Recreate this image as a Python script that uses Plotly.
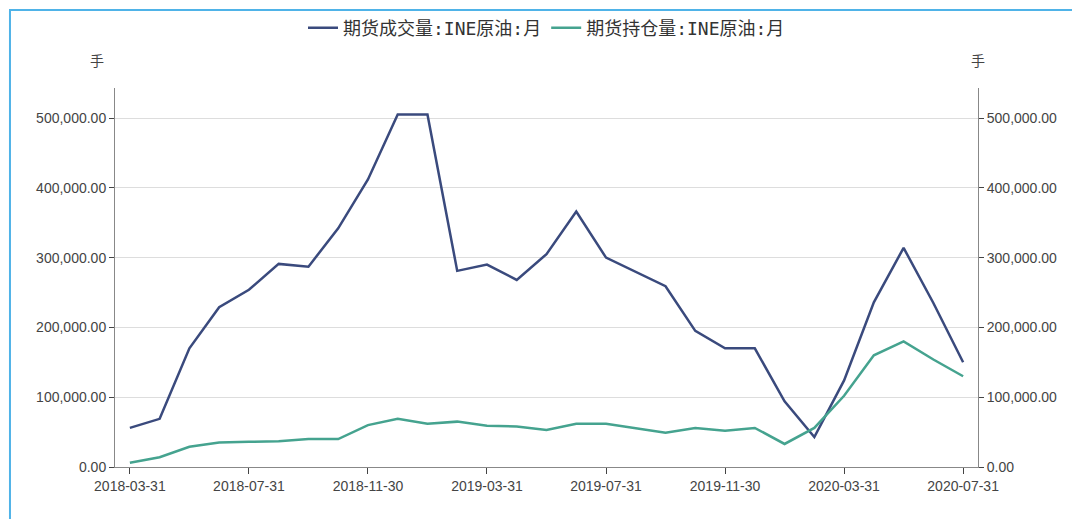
import plotly.graph_objects as go

months = ["2018-03-31", "2018-04-30", "2018-05-31", "2018-06-30", "2018-07-31", "2018-08-31",
          "2018-09-30", "2018-10-31", "2018-11-30", "2018-12-31", "2019-01-31", "2019-02-28",
          "2019-03-31", "2019-04-30", "2019-05-31", "2019-06-30", "2019-07-31", "2019-08-31",
          "2019-09-30", "2019-10-31", "2019-11-30", "2019-12-31", "2020-01-31", "2020-02-29",
          "2020-03-31", "2020-04-30", "2020-05-31", "2020-06-30", "2020-07-31"]
volume = [56000, 69000, 170000, 229000, 254000, 291000, 287000, 342000, 412000, 505000, 505000,
          281000, 290000, 268000, 305000, 366000, 300000, 280000, 259000, 195000, 170000, 170000,
          94000, 43000, 124000, 236000, 314000, 235000, 150000]
open_interest = [6000, 14000, 29000, 35000, 36000, 37000, 40000, 40000, 60000, 69000, 62000,
                 65000, 59000, 58000, 53000, 62000, 62000, 55000, 49000, 56000, 52000, 56000,
                 33000, 56000, 102000, 160000, 180000, 154000, 130000]

x = list(range(len(months)))
font = dict(family="Liberation Sans, Arial", size=14, color="#444")

fig = go.Figure()
fig.add_trace(go.Scatter(x=x, y=volume, mode="lines", name="期货成交量:INE原油:月",
                         line=dict(color="#3a4a7d", width=2.5)))
fig.add_trace(go.Scatter(x=x, y=open_interest, mode="lines", name="期货持仓量:INE原油:月",
                         line=dict(color="#45a38f", width=2.5), yaxis="y2"))

yr = [0, 543000]
fig.update_layout(
    width=1080, height=519, margin=dict(l=107, r=110, t=80, b=60, autoexpand=False),
    plot_bgcolor="white", paper_bgcolor="white", font=font,
    legend=dict(orientation="h", x=0.5, xanchor="center", y=1.158, yanchor="middle",
                bgcolor="rgba(0,0,0,0)",
                font=dict(size=18, color="#333", family="DejaVu Sans Mono, Noto Sans CJK SC")),
    xaxis=dict(range=[-0.5, 28.5], tickvals=x[::4], ticktext=months[::4], showgrid=False,
               ticks="outside", ticklen=6, linecolor="#888", showline=True, zeroline=False),
    yaxis=dict(range=yr, dtick=100000, tickformat=",.2f", gridcolor="#ddd", zeroline=False,
               showline=True, linecolor="#888", ticks="outside", ticklen=5),
    yaxis2=dict(range=yr, dtick=100000, tickformat=",.2f", overlaying="y", side="right",
                showgrid=False, zeroline=False, showline=True, linecolor="#888",
                ticks="outside", ticklen=5),
    annotations=[
        dict(text="手", xref="paper", yref="paper", x=-0.01, y=1.074, showarrow=False,
             xanchor="right", yanchor="middle", font=dict(family="Noto Sans CJK SC", size=14)),
        dict(text="手", xref="paper", yref="paper", x=1.0, y=1.074, showarrow=False,
             xanchor="center", yanchor="middle", font=dict(family="Noto Sans CJK SC", size=14)),
    ],
    shapes=[dict(type="rect", xref="paper", yref="paper", x0=-0.1217, x1=1.124, y0=-0.150, y1=1.206,
                 line=dict(color="#4fb3e8", width=2), layer="below")],
)
fig.write_html("out.html")
